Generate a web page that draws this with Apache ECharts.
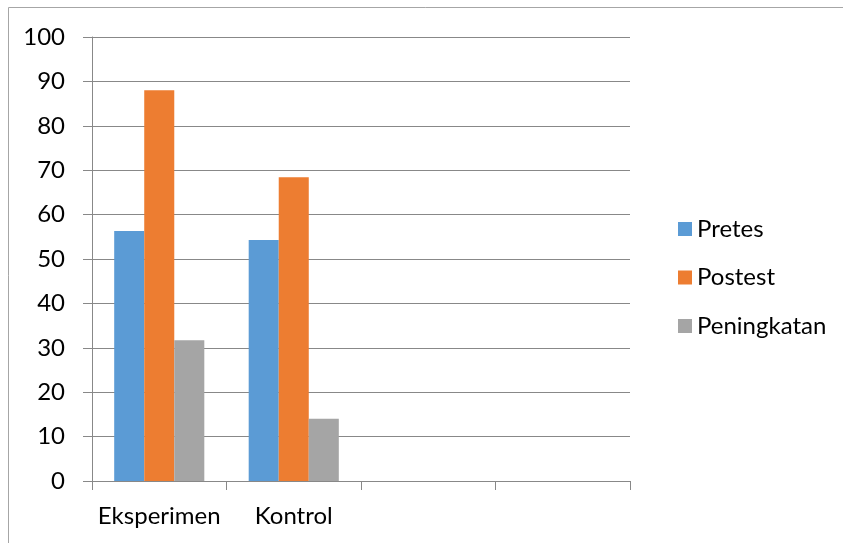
<!DOCTYPE html>
<html>
<head>
<meta charset="utf-8">
<script src="https://cdn.jsdelivr.net/npm/echarts@6/dist/echarts.min.js"></script>
<style>html,body{margin:0;padding:0;background:#fff}#c{width:843px;height:543px}</style>
</head>
<body>
<div id="c"></div>
<script>
const categories = ['Eksperimen', 'Kontrol', '', ''];
const pretes = [56.3, 54.3];
const postest = [88, 68.4];
const peningkatan = [31.7, 14];
const seriesNames = ['Pretes', 'Postest', 'Peningkatan'];
const colors = ['#5B9BD5', '#ED7D31', '#A5A5A5'];

const FONT = 'Lato';
const chart = echarts.init(document.getElementById('c'), null, {renderer: 'canvas'});
chart.setOption({
  animation: false,
  color: colors,
  graphic: [
    {type: 'line', shape: {x1: 8.5, y1: 7.5, x2: 8.5, y2: 543}, style: {stroke: '#a6a6a6', lineWidth: 1}},
    {type: 'line', shape: {x1: 8.5, y1: 7.5, x2: 843, y2: 7.5}, style: {stroke: '#a6a6a6', lineWidth: 1}}
  ],
  grid: {left: 92, right: 213, top: 37, bottom: 62, containLabel: false},
  legend: {
    orient: 'vertical',
    left: 673, top: 212,
    itemWidth: 14, itemHeight: 14, itemGap: 24.5,
    icon: 'rect',
    textStyle: {fontFamily: FONT, fontSize: 24, lineHeight: 24, color: '#000', padding: [0, 0, 0, 0]},
    data: seriesNames
  },
  xAxis: {
    type: 'category',
    data: categories,
    axisLine: {lineStyle: {color: '#888', width: 1}},
    axisTick: {show: true, length: 9, lineStyle: {color: '#888'}, alignWithLabel: false},
    axisLabel: {fontFamily: FONT, fontSize: 24, color: '#000', margin: 23, interval: 0}
  },
  yAxis: {
    type: 'value', min: 0, max: 100, interval: 10,
    axisLine: {show: true, lineStyle: {color: '#888', width: 1}},
    axisTick: {show: true, length: 9, lineStyle: {color: '#888'}},
    axisLabel: {fontFamily: FONT, fontSize: 24, color: '#000', margin: 27},
    splitLine: {lineStyle: {color: '#888', width: 1}}
  },
  series: [
    {name: seriesNames[0], type: 'bar', data: pretes, barGap: '0%', barCategoryGap: '33%'},
    {name: seriesNames[1], type: 'bar', data: postest, barGap: '0%', barCategoryGap: '33%'},
    {name: seriesNames[2], type: 'bar', data: peningkatan, barGap: '0%', barCategoryGap: '33%'}
  ]
});
</script>
</body>
</html>
